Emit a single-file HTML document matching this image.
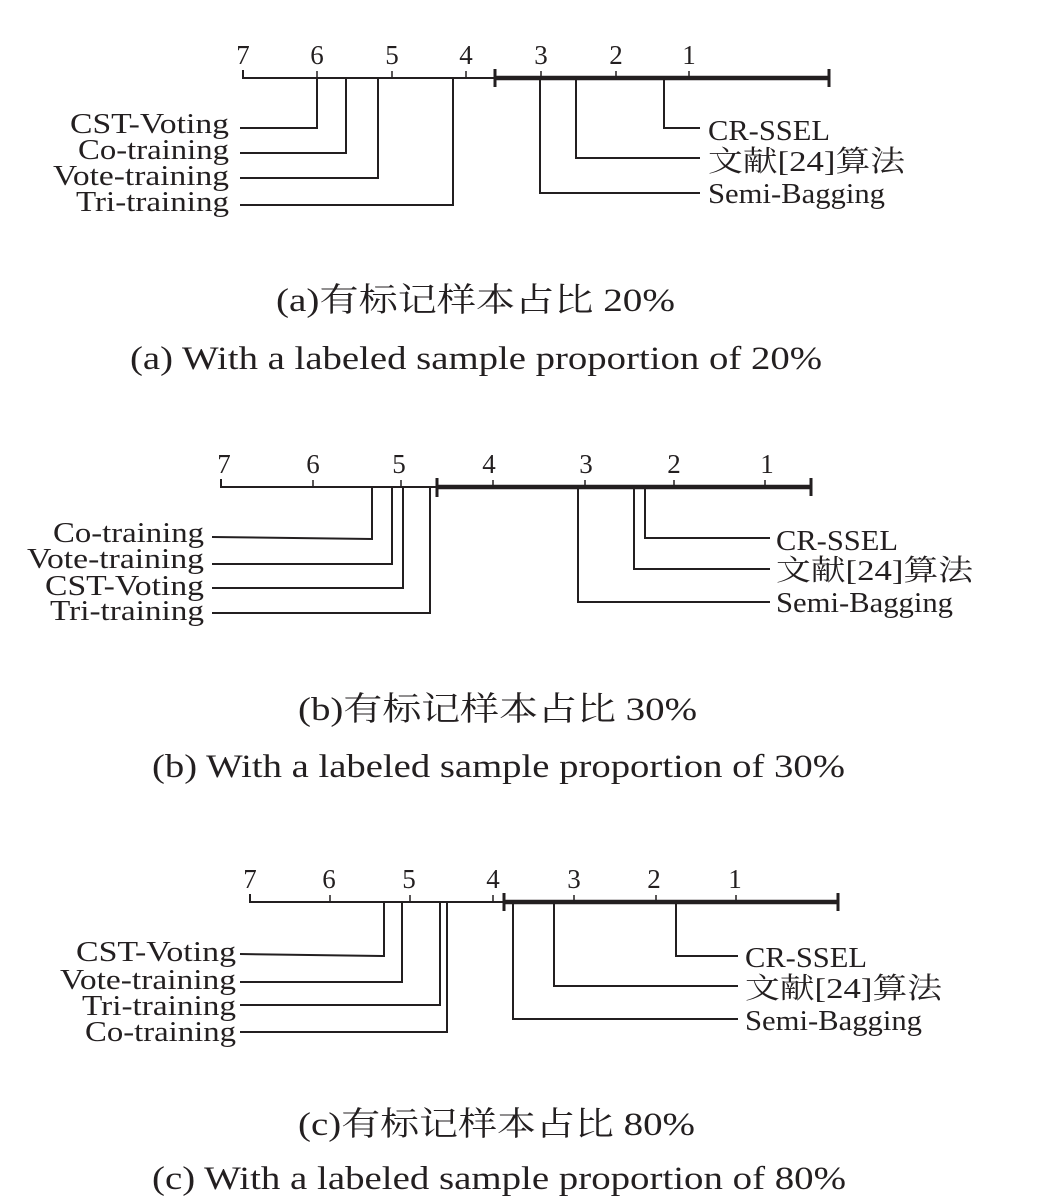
<!DOCTYPE html>
<html><head><meta charset="utf-8">
<style>
html,body{margin:0;padding:0;background:#fff;}
svg{display:block;}
text{font-family:"Liberation Serif","Noto Serif CJK SC",serif;fill:#231f20;}
</style></head>
<body>
<svg width="1040" height="1200" viewBox="0 0 1040 1200" xmlns="http://www.w3.org/2000/svg">
<g stroke="#231f20" fill="none" stroke-linecap="butt">
<!-- Panel a -->
<line x1="243" y1="78" x2="494" y2="78" stroke-width="2"/>
<line x1="494" y1="78" x2="829" y2="78" stroke-width="4.5"/>
<line x1="243" y1="70" x2="243" y2="79" stroke-width="2"/>
<line x1="317" y1="71" x2="317" y2="79" stroke-width="1.5"/>
<line x1="392" y1="71" x2="392" y2="79" stroke-width="1.5"/>
<line x1="466" y1="71" x2="466" y2="79" stroke-width="1.5"/>
<line x1="541" y1="71" x2="541" y2="79" stroke-width="1.5"/>
<line x1="616" y1="71" x2="616" y2="79" stroke-width="1.5"/>
<line x1="689" y1="71" x2="689" y2="79" stroke-width="1.5"/>
<line x1="495" y1="69" x2="495" y2="87" stroke-width="3"/>
<line x1="829" y1="69" x2="829" y2="87" stroke-width="3"/>
<polyline points="317,78 317,128 240,128" stroke-width="2"/>
<polyline points="346,78 346,153 240,153" stroke-width="2"/>
<polyline points="378,78 378,178 240,178" stroke-width="2"/>
<polyline points="453,78 453,205 240,205" stroke-width="2"/>
<polyline points="664,78 664,128 700,128" stroke-width="2"/>
<polyline points="576,78 576,158 700,158" stroke-width="2"/>
<polyline points="540,78 540,193 700,193" stroke-width="2"/>

<!-- Panel b -->
<line x1="221" y1="487" x2="436" y2="487" stroke-width="2"/>
<line x1="436" y1="487" x2="811" y2="487" stroke-width="4.5"/>
<line x1="221" y1="479" x2="221" y2="488" stroke-width="2"/>
<line x1="313" y1="480" x2="313" y2="488" stroke-width="1.5"/>
<line x1="401" y1="480" x2="401" y2="488" stroke-width="1.5"/>
<line x1="493" y1="480" x2="493" y2="488" stroke-width="1.5"/>
<line x1="585" y1="480" x2="585" y2="488" stroke-width="1.5"/>
<line x1="674" y1="480" x2="674" y2="488" stroke-width="1.5"/>
<line x1="765" y1="480" x2="765" y2="488" stroke-width="1.5"/>
<line x1="437" y1="478" x2="437" y2="497" stroke-width="3"/>
<line x1="811" y1="478" x2="811" y2="496" stroke-width="3"/>
<polyline points="372,487 372,539 212,537" stroke-width="2"/>
<polyline points="392,487 392,564 212,564" stroke-width="2"/>
<polyline points="403,487 403,588 212,588" stroke-width="2"/>
<polyline points="430,487 430,613 212,613" stroke-width="2"/>
<polyline points="645,487 645,538 770,538" stroke-width="2"/>
<polyline points="634,487 634,569 770,569" stroke-width="2"/>
<polyline points="578,487 578,602 770,602" stroke-width="2"/>

<!-- Panel c -->
<line x1="250" y1="902" x2="503" y2="902" stroke-width="2"/>
<line x1="503" y1="902" x2="838" y2="902" stroke-width="4.5"/>
<line x1="250" y1="894" x2="250" y2="903" stroke-width="2"/>
<line x1="330" y1="895" x2="330" y2="903" stroke-width="1.5"/>
<line x1="410" y1="895" x2="410" y2="903" stroke-width="1.5"/>
<line x1="493" y1="895" x2="493" y2="903" stroke-width="1.5"/>
<line x1="574" y1="895" x2="574" y2="903" stroke-width="1.5"/>
<line x1="656" y1="895" x2="656" y2="903" stroke-width="1.5"/>
<line x1="736" y1="895" x2="736" y2="903" stroke-width="1.5"/>
<line x1="504" y1="893" x2="504" y2="911" stroke-width="3"/>
<line x1="838" y1="893" x2="838" y2="911" stroke-width="3"/>
<polyline points="384,902 384,956 240,954" stroke-width="2"/>
<polyline points="402,902 402,982 240,982" stroke-width="2"/>
<polyline points="440,902 440,1005 240,1005" stroke-width="2"/>
<polyline points="447,902 447,1032 240,1032" stroke-width="2"/>
<polyline points="676,902 676,956 738,956" stroke-width="2"/>
<polyline points="554,902 554,986 738,986" stroke-width="2"/>
<polyline points="513,902 513,1019 738,1019" stroke-width="2"/>
</g>

<g font-size="27" text-anchor="middle">
<text x="243" y="64">7</text><text x="317" y="64">6</text><text x="392" y="64">5</text><text x="466" y="64">4</text><text x="541" y="64">3</text><text x="616" y="64">2</text><text x="689" y="64">1</text>
<text x="224" y="473">7</text><text x="313" y="473">6</text><text x="399" y="473">5</text><text x="489" y="473">4</text><text x="586" y="473">3</text><text x="674" y="473">2</text><text x="767" y="473">1</text>
<text x="250" y="888">7</text><text x="329" y="888">6</text><text x="409" y="888">5</text><text x="493" y="888">4</text><text x="574" y="888">3</text><text x="654" y="888">2</text><text x="735" y="888">1</text>
</g>

<g font-size="29">
<text x="70" y="133" textLength="159" lengthAdjust="spacingAndGlyphs">CST-Voting</text>
<text x="78" y="159" textLength="151" lengthAdjust="spacingAndGlyphs">Co-training</text>
<text x="53" y="185" textLength="176" lengthAdjust="spacingAndGlyphs">Vote-training</text>
<text x="76" y="211" textLength="153" lengthAdjust="spacingAndGlyphs">Tri-training</text>
<text x="708" y="140" textLength="122" lengthAdjust="spacingAndGlyphs">CR-SSEL</text>
<text x="708" y="171" textLength="197" lengthAdjust="spacingAndGlyphs">文献[24]算法</text>
<text x="708" y="203" textLength="177" lengthAdjust="spacingAndGlyphs">Semi-Bagging</text>
<text x="53" y="542" textLength="151" lengthAdjust="spacingAndGlyphs">Co-training</text>
<text x="27" y="568" textLength="177" lengthAdjust="spacingAndGlyphs">Vote-training</text>
<text x="45" y="595" textLength="159" lengthAdjust="spacingAndGlyphs">CST-Voting</text>
<text x="50" y="620" textLength="154" lengthAdjust="spacingAndGlyphs">Tri-training</text>
<text x="776" y="550" textLength="122" lengthAdjust="spacingAndGlyphs">CR-SSEL</text>
<text x="776" y="580" textLength="197" lengthAdjust="spacingAndGlyphs">文献[24]算法</text>
<text x="776" y="612" textLength="177" lengthAdjust="spacingAndGlyphs">Semi-Bagging</text>
<text x="76" y="961" textLength="160" lengthAdjust="spacingAndGlyphs">CST-Voting</text>
<text x="60" y="989" textLength="176" lengthAdjust="spacingAndGlyphs">Vote-training</text>
<text x="82" y="1015" textLength="154" lengthAdjust="spacingAndGlyphs">Tri-training</text>
<text x="85" y="1041" textLength="151" lengthAdjust="spacingAndGlyphs">Co-training</text>
<text x="745" y="967" textLength="122" lengthAdjust="spacingAndGlyphs">CR-SSEL</text>
<text x="745" y="998" textLength="197" lengthAdjust="spacingAndGlyphs">文献[24]算法</text>
<text x="745" y="1030" textLength="177" lengthAdjust="spacingAndGlyphs">Semi-Bagging</text>
</g>

<g font-size="33">
<text x="276" y="311" textLength="399" lengthAdjust="spacingAndGlyphs">(a)有标记样本占比 20%</text>
<text x="130" y="369" textLength="692" lengthAdjust="spacingAndGlyphs">(a) With a labeled sample proportion of 20%</text>
<text x="298" y="720" textLength="399" lengthAdjust="spacingAndGlyphs">(b)有标记样本占比 30%</text>
<text x="152" y="777" textLength="693" lengthAdjust="spacingAndGlyphs">(b) With a labeled sample proportion of 30%</text>
<text x="298" y="1135" textLength="397" lengthAdjust="spacingAndGlyphs">(c)有标记样本占比 80%</text>
<text x="152" y="1189" textLength="694" lengthAdjust="spacingAndGlyphs">(c) With a labeled sample proportion of 80%</text>
</g>
</svg>
</body></html>
